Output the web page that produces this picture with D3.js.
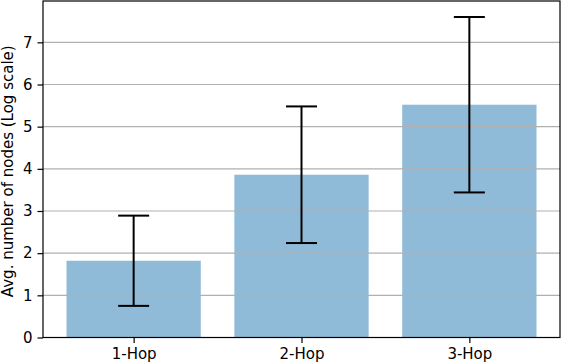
<!DOCTYPE html>
<html>
<head>
<meta charset="utf-8">
<script src="https://d3js.org/d3.v7.min.js"></script>
<style>
  body { margin: 0; background: #fff; }
  svg text { font-family: "DejaVu Sans", sans-serif; fill: #000; }
</style>
</head>
<body>
<svg id="chart" width="562" height="364"></svg>
<script>
  // values
  var categories = ["1-Hop", "2-Hop", "3-Hop"];
  var means = [1.82, 3.86, 5.52];
  var errs = [1.07, 1.62, 2.08];
  var yTicks = [0, 1, 2, 3, 4, 5, 6, 7];

  var svg = d3.select("#chart"),
    margin = { top: 1, right: 2, bottom: 26.5, left: 43 },
    width = 562 - margin.left - margin.right,
    height = 364 - margin.top - margin.bottom;

  var g = svg.append("g").attr("transform", "translate(" + margin.left + "," + margin.top + ")");

  // matplotlib style: bars 0.8 wide, 5% margins
  var x = d3.scaleLinear().domain([-0.54, categories.length - 1 + 0.54]).range([0, width]);
  var yMax = d3.max(means.map(function(m, i) { return m + errs[i]; })) * 1.05;
  var y = d3.scaleLinear().domain([0, yMax]).range([height, 0]);

  // bars
  g.append("g").selectAll("rect").data(means).enter().append("rect")
    .attr("x", function(d, i) { return x(i - 0.4); })
    .attr("width", x(0.4) - x(-0.4))
    .attr("y", function(d) { return y(d); })
    .attr("height", function(d) { return y(0) - y(d); })
    .attr("fill", "#1f77b4").attr("fill-opacity", 0.5);

  // grid sits above the patches, like matplotlib's default
  g.append("g").selectAll("line").data(yTicks).enter().append("line")
    .attr("x1", 0).attr("x2", width)
    .attr("y1", function(d) { return y(d); }).attr("y2", function(d) { return y(d); })
    .attr("stroke", "#b0b0b0").attr("stroke-width", 1.2);

  // error bars
  var eb = g.append("g").attr("stroke", "#000").attr("stroke-width", 2);
  means.forEach(function(m, i) {
    var cx = x(i), lo = y(m - errs[i]), hi = y(m + errs[i]);
    eb.append("line").attr("x1", cx).attr("x2", cx).attr("y1", lo).attr("y2", hi);
    eb.append("line").attr("x1", cx - 15.5).attr("x2", cx + 15.5).attr("y1", lo).attr("y2", lo);
    eb.append("line").attr("x1", cx - 15.5).attr("x2", cx + 15.5).attr("y1", hi).attr("y2", hi);
  });

  // frame
  g.append("rect").attr("width", width).attr("height", height)
    .attr("fill", "none").attr("stroke", "#000").attr("stroke-width", 1.2);

  // axes
  var yAxis = g.append("g").call(d3.axisLeft(y).tickValues(yTicks).tickSize(5.5).tickPadding(5));
  var xAxis = g.append("g").attr("transform", "translate(0," + height + ")")
    .call(d3.axisBottom(x).tickValues(d3.range(categories.length))
      .tickFormat(function(d) { return categories[d]; }).tickSize(5.5).tickPadding(5));
  [yAxis, xAxis].forEach(function(a) {
    a.select(".domain").remove();
    a.selectAll("line").attr("stroke", "#000").attr("stroke-width", 1.2);
    a.selectAll("text").attr("font-size", 15).attr("font-family", "DejaVu Sans");
  });

  svg.append("text")
    .attr("transform", "translate(13," + (margin.top + height / 2 + 2) + ") rotate(-90)")
    .attr("text-anchor", "middle")
    .attr("font-size", 15)
    .text("Avg. number of nodes (Log scale)");
</script>
</body>
</html>
